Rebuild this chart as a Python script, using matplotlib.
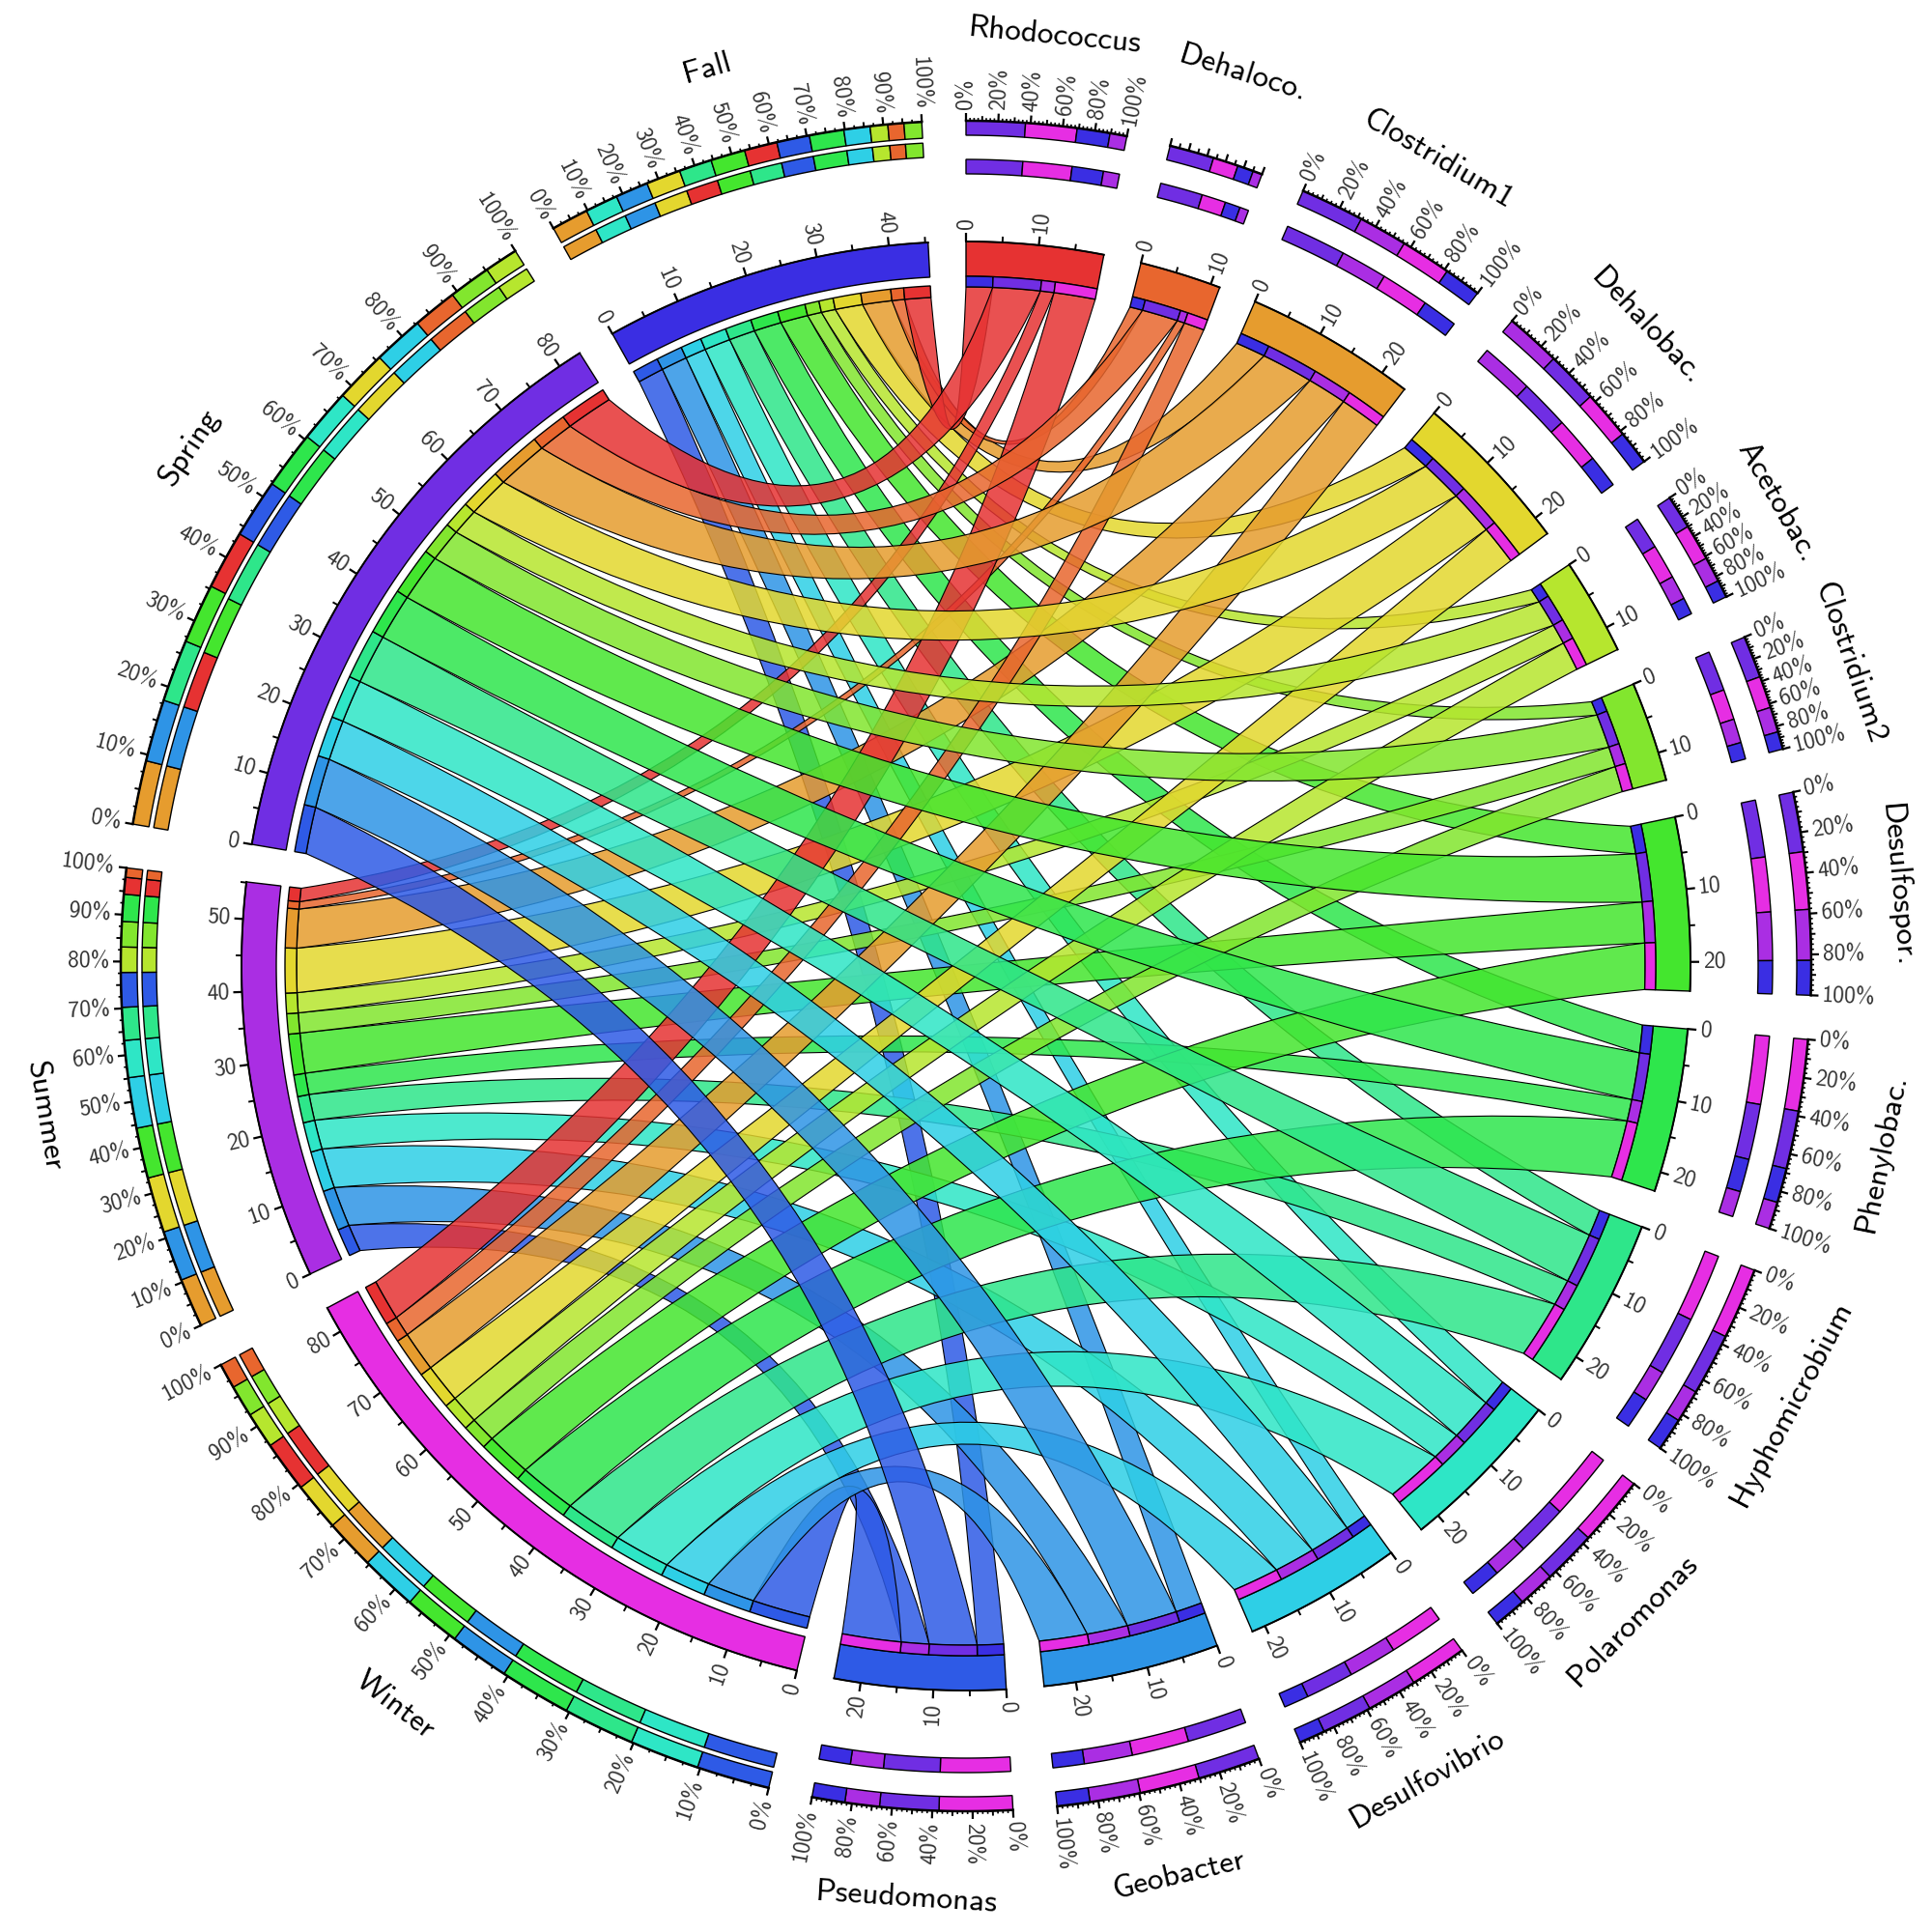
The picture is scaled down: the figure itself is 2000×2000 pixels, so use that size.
import numpy as np
import matplotlib
matplotlib.use('Agg')
import matplotlib.pyplot as plt
from matplotlib.patches import PathPatch, Polygon
from matplotlib.path import Path

# --- Data ---
BACTERIA = ['Rhodococcus', 'Dehaloco.', 'Clostridium1', 'Dehalobac.', 'Acetobac.', 'Clostridium2',
            'Desulfospor.', 'Phenylobac.', 'Hyphomicrobium', 'Polaromonas', 'Desulfovibrio',
            'Geobacter', 'Pseudomonas']
SEASONS = ['Winter', 'Summer', 'Spring', 'Fall']

FALL = [3.9, 1.9, 4.4, 4.1, 2.1, 2.1, 4.1, 4.1, 3.9, 3.9, 3.1, 3.9, 3.9]
SPRING = [7.0, 5.3, 7.6, 6.2, 4.0, 5.0, 7.1, 6.9, 7.4, 6.4, 6.0, 7.4, 7.0]
SUMMER = [2.0, 1.1, 5.8, 6.6, 3.0, 3.0, 6.0, 3.2, 3.9, 4.4, 6.0, 6.0, 4.1]
WINTER = [6.1, 3.0, 6.0, 5.8, 4.3, 3.8, 6.8, 8.5, 8.5, 8.3, 6.8, 7.1, 8.7]

BAC_COLORS = ['#E63232', '#E8662E', '#E69C2E', '#E3D72E', '#B6E62E', '#82E62E', '#44E62E',
              '#2EE64C', '#2EE68A', '#2EE6C6', '#2ECFE6', '#2E94E6', '#2E5AE6']
SEASON_COLORS = {'Fall': '#3A2EE3', 'Spring': '#702EE3', 'Summer': '#AA2EE3', 'Winter': '#E62EE3'}

# order of the stacked pieces in the percent rings
BAC_RING_ORDER = {
    'Rhodococcus': ['Spring', 'Winter', 'Fall', 'Summer'],
    'Dehaloco.': ['Spring', 'Winter', 'Fall', 'Summer'],
    'Clostridium1': ['Spring', 'Summer', 'Winter', 'Fall'],
    'Dehalobac.': ['Summer', 'Spring', 'Winter', 'Fall'],
    'Acetobac.': ['Spring', 'Winter', 'Summer', 'Fall'],
    'Clostridium2': ['Spring', 'Winter', 'Summer', 'Fall'],
    'Desulfospor.': ['Spring', 'Winter', 'Summer', 'Fall'],
    'Phenylobac.': ['Winter', 'Spring', 'Fall', 'Summer'],
    'Hyphomicrobium': ['Winter', 'Spring', 'Summer', 'Fall'],
    'Polaromonas': ['Winter', 'Spring', 'Summer', 'Fall'],
    'Desulfovibrio': ['Winter', 'Summer', 'Spring', 'Fall'],
    'Geobacter': ['Spring', 'Winter', 'Summer', 'Fall'],
    'Pseudomonas': ['Winter', 'Spring', 'Summer', 'Fall'],
}
FALL_RING1 = [2, 9, 11, 3, 8, 6, 0, 12, 7, 10, 4, 1, 5]
FALL_RING2 = [2, 9, 11, 3, 0, 6, 8, 12, 7, 10, 4, 1, 5]
SPRING_RING1 = [2, 11, 8, 6, 0, 12, 7, 9, 3, 10, 1, 5, 4]
SPRING_RING2 = [2, 11, 0, 6, 8, 12, 7, 9, 3, 10, 1, 5, 4]
SUMMER_RING = [2, 11, 3, 6, 10, 9, 8, 12, 4, 5, 7, 0, 1]
WINTER_RING = [12, 9, 8, 7, 11, 6, 10, 2, 3, 0, 4, 5, 1]

NO_PERCENT_LABELS = ['Dehaloco.']
LINK_DRAW_ORDER = ['Fall', 'Summer', 'Winter', 'Spring']

GAP = 3.0
R_MAIN = (750, 714)
R_BAC_SMALL = (714, 703)
R_SEASON_SMALL = (705, 693)
R_BAC_RINGS = ((875, 860), (835, 820))
R_SEASON_RINGS = ((875, 858), (853, 838))
R_NAME = 967
LINK_ALPHA = 0.85
FONT = 'cmss10'


def polar(r, theta):
    """theta in degrees, clockwise from the top."""
    t = np.radians(theta)
    return r * np.sin(t), r * np.cos(t)


def arc(r, t0, t1, n=None):
    n = n or max(2, int(abs(t1 - t0) * 3))
    th = np.linspace(t0, t1, n)
    return np.column_stack(polar(r, th))


def ring_piece(ax, r_out, r_in, t0, t1, color, zorder=3):
    pts = np.vstack([arc(r_out, t0, t1), arc(r_in, t1, t0)])
    ax.add_patch(Polygon(pts, closed=True, facecolor=color, edgecolor='black', lw=0.5, zorder=zorder))


def tick_text(ax, r, theta, label, size):
    theta = theta % 360
    x, y = polar(r, theta)
    if theta <= 180:
        rot, ha = 90 - theta, 'left'
    else:
        rot, ha = 270 - theta, 'right'
    ax.text(x, y, label, rotation=rot, rotation_mode='anchor', ha=ha, va='center',
            fontsize=size, family=FONT, color='#333333')


def tick_line(ax, r, theta, length, lw):
    x0, y0 = polar(r, theta)
    x1, y1 = polar(r + length, theta)
    ax.plot([x0, x1], [y0, y1], color='black', lw=lw, solid_capstyle='butt', zorder=4)


def signed_sep(ta, tb):
    d = (tb - ta) % 360
    return d - 360 if d > 180 else d


def link_edge_control(ta, ra, tb, rb, shift=0.0):
    """Control point of one link edge: pulled toward the centre along the mid angle."""
    d = signed_sep(ta, tb)
    mid = ta + d / 2
    chord = (ra + rb) / 2 * np.cos(np.radians(abs(d) / 2))
    pull = 0.6 - 0.3 * (abs(d) / 130) ** 1.5
    return polar(pull * chord + shift, mid)


def draw_link(ax, a0, a1, ra, b0, b1, rb, color, zorder):
    pa = arc(ra, a0, a1)
    pb = arc(rb, b0, b1)

    # push the two edges apart a little so the band keeps its width across the middle
    d1 = abs(signed_sep(a1, b0))
    d2 = abs(signed_sep(b1, a0))
    width = np.radians(a1 - a0) * (ra + rb) / 2
    shift = 0.1 * width * np.sin(np.radians((d1 + d2) / 4))
    shift1, shift2 = (-shift, shift) if d1 > d2 else (shift, -shift)

    verts = list(map(tuple, pa))
    codes = [Path.MOVETO] + [Path.LINETO] * (len(pa) - 1)
    verts += [link_edge_control(a1, ra, b0, rb, shift1), tuple(pb[0])]
    codes += [Path.CURVE3, Path.CURVE3]
    verts += list(map(tuple, pb[1:]))
    codes += [Path.LINETO] * (len(pb) - 1)
    verts += [link_edge_control(b1, rb, a0, ra, shift2), tuple(pa[0])]
    codes += [Path.CURVE3, Path.CURVE3]
    rgba = matplotlib.colors.to_rgba(color, LINK_ALPHA)
    ax.add_patch(PathPatch(Path(verts, codes), facecolor=rgba, edgecolor='black', lw=0.4, zorder=zorder))


def sector_name(ax, name, theta):
    theta = theta % 360
    x, y = polar(R_NAME, theta)
    rot = -theta if (theta < 90 or theta > 270) else 180 - theta
    ax.text(x, y, name, rotation=rot, rotation_mode='anchor', ha='center', va='center',
            fontsize=12, family=FONT, color='black')


def percent_ring(ax, rings, t0, t1, orders, values, colors):
    span = t1 - t0
    for (r_out, r_in), order in zip(rings, orders):
        total = sum(values[k] for k in order)
        pos = t0
        for k in order:
            step = span * values[k] / total
            ring_piece(ax, r_out, r_in, pos, pos + step, colors[k])
            pos += step


def percent_axis(ax, r, t0, t1, major, minor, labels=True):
    a = arc(r, t0, t1)
    ax.plot(a[:, 0], a[:, 1], color='black', lw=0.9, zorder=4)
    for p in np.arange(0, 100.01, minor):
        th = t0 + (t1 - t0) * p / 100
        if abs(p % major) < 1e-6 or abs(p % major - major) < 1e-6:
            tick_line(ax, r, th, 8, 0.8)
            if labels:
                tick_text(ax, r + 12, th, f'{int(round(p))}%', 8.5)
        elif abs(p % 10) < 1e-6 or abs(p % 5) < 1e-6 and major == 10:
            tick_line(ax, r, th, 5, 0.7)
        else:
            tick_line(ax, r, th, 3, 0.6)


def value_axis(ax, r, t0, per_unit, total):
    a = arc(r, t0, t0 + total * per_unit)
    ax.plot(a[:, 0], a[:, 1], color='black', lw=0.7, zorder=4)
    for v in np.arange(0, total, 5):
        th = t0 + v * per_unit
        if int(v) % 10 == 0:
            tick_line(ax, r, th, 9, 0.8)
            tick_text(ax, r + 13, th, str(int(v)), 8.5)
        else:
            tick_line(ax, r, th, 6, 0.7)


def main():
    matrix = np.array([FALL, SPRING, SUMMER, WINTER])  # seasons x bacteria
    season_keys = ['Fall', 'Spring', 'Summer', 'Winter']
    bac_totals = matrix.sum(axis=0)
    season_totals = dict(zip(season_keys, matrix.sum(axis=1)))

    n_sectors = len(BACTERIA) + len(SEASONS)
    per_unit = (360 - GAP * n_sectors) / (bac_totals.sum() + sum(season_totals.values()))

    fig = plt.figure(figsize=(10, 10), dpi=200)
    ax = fig.add_axes([0, 0, 1, 1])
    ax.set_xlim(-1000, 1000)
    ax.set_ylim(-1000, 1000)
    ax.axis('off')

    # --- sector start angles, clockwise from Rhodococcus at the top ---
    bac_start = {}
    season_start = {}
    pos = 0.0
    for i, name in enumerate(BACTERIA):
        bac_start[name] = pos
        pos += bac_totals[i] * per_unit + GAP
    for name in SEASONS:
        season_start[name] = pos
        pos += season_totals[name] * per_unit + GAP

    # --- bacteria sectors ---
    for i, name in enumerate(BACTERIA):
        t0 = bac_start[name]
        t1 = t0 + bac_totals[i] * per_unit
        ring_piece(ax, R_MAIN[0], R_MAIN[1], t0, t1, BAC_COLORS[i])
        value_axis(ax, R_MAIN[0], t0, per_unit, bac_totals[i])
        p = t0
        for j, s in enumerate(season_keys):
            step = matrix[j, i] * per_unit
            ring_piece(ax, R_BAC_SMALL[0], R_BAC_SMALL[1], p, p + step, SEASON_COLORS[s])
            p += step
        values = {s: matrix[j, i] for j, s in enumerate(season_keys)}
        order = BAC_RING_ORDER[name]
        percent_ring(ax, R_BAC_RINGS, t0, t1, [order, order], values, SEASON_COLORS)
        if name in NO_PERCENT_LABELS:
            percent_axis(ax, R_BAC_RINGS[0][0], t0, t1, 20, 10, labels=False)
        else:
            percent_axis(ax, R_BAC_RINGS[0][0], t0, t1, 20, 2.5)
        sector_name(ax, name, (t0 + t1) / 2)

    # --- season sectors ---
    ring_orders = {'Fall': [FALL_RING1, FALL_RING2], 'Spring': [SPRING_RING1, SPRING_RING2],
                   'Summer': [SUMMER_RING, SUMMER_RING], 'Winter': [WINTER_RING, WINTER_RING]}
    bac_color_map = dict(enumerate(BAC_COLORS))
    for j, s in enumerate(season_keys):
        t0 = season_start[s]
        t1 = t0 + season_totals[s] * per_unit
        ring_piece(ax, R_MAIN[0], R_MAIN[1], t0, t1, SEASON_COLORS[s])
        value_axis(ax, R_MAIN[0], t0, per_unit, season_totals[s])
        p = t0
        for i in range(len(BACTERIA) - 1, -1, -1):
            step = matrix[j, i] * per_unit
            ring_piece(ax, R_SEASON_SMALL[0], R_SEASON_SMALL[1], p, p + step, BAC_COLORS[i])
            p += step
        percent_ring(ax, R_SEASON_RINGS, t0, t1, ring_orders[s], dict(enumerate(matrix[j])), bac_color_map)
        percent_axis(ax, R_SEASON_RINGS[0][0], t0, t1, 10, 2.5)
        sector_name(ax, s, (t0 + t1) / 2)

    # --- links: segment positions in both sectors, spring links end up on top ---
    z = 2.0
    link_r_b = R_BAC_SMALL[1]
    link_r_s = R_SEASON_SMALL[1]
    for s in LINK_DRAW_ORDER:
        j = season_keys.index(s)
        for i in range(len(BACTERIA) - 1, -1, -1):
            a0 = bac_start[BACTERIA[i]] + matrix[:j, i].sum() * per_unit
            a1 = a0 + matrix[j, i] * per_unit
            b0 = season_start[s] + matrix[j, i + 1:].sum() * per_unit
            b1 = b0 + matrix[j, i] * per_unit
            draw_link(ax, a0, a1, link_r_b, b0, b1, link_r_s, BAC_COLORS[i], z)
            z += 0.001

    fig.savefig('out.png', dpi=200, facecolor='white')
    plt.close(fig)


if __name__ == '__main__':
    main()
